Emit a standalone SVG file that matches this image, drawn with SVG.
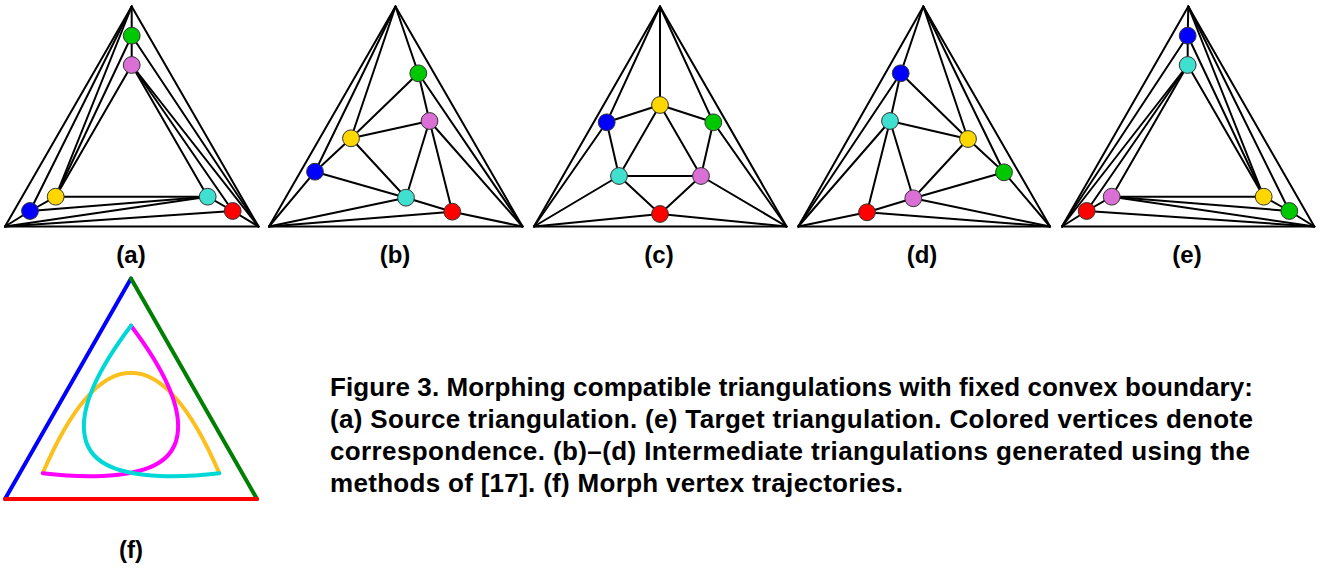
<svg xmlns="http://www.w3.org/2000/svg" width="1321" height="568" viewBox="0 0 1321 568">
<style>
.edges line{stroke:#000;stroke-width:2;stroke-linecap:round}
.nd{stroke:#333;stroke-width:1}
.green{fill:#00c800}.pink{fill:#da70d6}.yellow{fill:#ffd700}.blue{fill:#0000ff}.cyan{fill:#40e0d0}.red{fill:#ff0000}
.lbl{font-family:"Liberation Sans",Arial,sans-serif;font-weight:bold;font-size:24px;text-anchor:middle;fill:#000}
.cap{font-family:"Liberation Sans",Arial,sans-serif;font-weight:bold;font-size:26px;fill:#000}
.traj{fill:none;stroke-width:4;stroke-linecap:round;stroke-linejoin:round}
</style>

<!-- Panel (a) -->
<g id="panel-a">
<g id="a-connectors" class="edges">
<line x1="131.7" y1="6.5" x2="5" y2="226.5"/><line x1="131.7" y1="6.5" x2="258.5" y2="226.5"/><line x1="5" y1="226.5" x2="258.5" y2="226.5"/>
<line x1="131.7" y1="6.5" x2="131.7" y2="35.7"/><line x1="131.7" y1="6.5" x2="55.7" y2="196.7"/><line x1="131.7" y1="6.5" x2="30" y2="211"/>
<line x1="131.7" y1="35.7" x2="258.5" y2="226.5"/><line x1="131.7" y1="35.7" x2="55.7" y2="196.7"/><line x1="131.7" y1="35.7" x2="131.7" y2="65"/>
<line x1="131.7" y1="65" x2="55.7" y2="196.7"/><line x1="131.7" y1="65" x2="207.7" y2="196.7"/><line x1="131.7" y1="65" x2="232.7" y2="211"/><line x1="131.7" y1="65" x2="258.5" y2="226.5"/>
<line x1="55.7" y1="196.7" x2="30" y2="211"/><line x1="55.7" y1="196.7" x2="207.7" y2="196.7"/>
<line x1="30" y1="211" x2="207.7" y2="196.7"/><line x1="30" y1="211" x2="5" y2="226.5"/>
<line x1="207.7" y1="196.7" x2="232.7" y2="211"/><line x1="207.7" y1="196.7" x2="5" y2="226.5"/>
<line x1="232.7" y1="211" x2="5" y2="226.5"/><line x1="232.7" y1="211" x2="258.5" y2="226.5"/>
</g>
<g id="a-green"><circle class="nd green" cx="131.7" cy="35.7" r="8.4"/></g>
<g id="a-pink"><circle class="nd pink" cx="131.7" cy="65" r="8.4"/></g>
<g id="a-yellow"><circle class="nd yellow" cx="55.7" cy="196.7" r="8.4"/></g>
<g id="a-blue"><circle class="nd blue" cx="30" cy="211" r="8.4"/></g>
<g id="a-cyan"><circle class="nd cyan" cx="207.7" cy="196.7" r="8.4"/></g>
<g id="a-red"><circle class="nd red" cx="232.7" cy="211" r="8.4"/></g>
<text class="lbl" x="131" y="263">(a)</text>
</g>

<!-- Panel (b) -->
<g id="panel-b">
<g id="b-connectors" class="edges">
<line x1="395.5" y1="6.5" x2="269" y2="226.5"/><line x1="395.5" y1="6.5" x2="522.5" y2="226.5"/><line x1="269" y1="226.5" x2="522.5" y2="226.5"/>
<line x1="395.5" y1="6.5" x2="418.3" y2="73.3"/><line x1="395.5" y1="6.5" x2="351" y2="138.3"/><line x1="395.5" y1="6.5" x2="315" y2="171.7"/>
<line x1="418.3" y1="73.3" x2="522.5" y2="226.5"/><line x1="418.3" y1="73.3" x2="351" y2="138.3"/><line x1="418.3" y1="73.3" x2="429.5" y2="121"/>
<line x1="429.5" y1="121" x2="351" y2="138.3"/><line x1="429.5" y1="121" x2="406" y2="197.7"/><line x1="429.5" y1="121" x2="452.3" y2="211.7"/><line x1="429.5" y1="121" x2="522.5" y2="226.5"/>
<line x1="351" y1="138.3" x2="315" y2="171.7"/><line x1="351" y1="138.3" x2="406" y2="197.7"/>
<line x1="315" y1="171.7" x2="406" y2="197.7"/><line x1="315" y1="171.7" x2="269" y2="226.5"/>
<line x1="406" y1="197.7" x2="452.3" y2="211.7"/><line x1="406" y1="197.7" x2="269" y2="226.5"/>
<line x1="452.3" y1="211.7" x2="269" y2="226.5"/><line x1="452.3" y1="211.7" x2="522.5" y2="226.5"/>
</g>
<g id="b-green"><circle class="nd green" cx="418.3" cy="73.3" r="8.4"/></g>
<g id="b-pink"><circle class="nd pink" cx="429.5" cy="121" r="8.4"/></g>
<g id="b-yellow"><circle class="nd yellow" cx="351" cy="138.3" r="8.4"/></g>
<g id="b-blue"><circle class="nd blue" cx="315" cy="171.7" r="8.4"/></g>
<g id="b-cyan"><circle class="nd cyan" cx="406" cy="197.7" r="8.4"/></g>
<g id="b-red"><circle class="nd red" cx="452.3" cy="211.7" r="8.4"/></g>
<text class="lbl" x="395" y="263">(b)</text>
</g>

<!-- Panel (c) -->
<g id="panel-c">
<g id="c-connectors" class="edges">
<line x1="660" y1="6.5" x2="534" y2="226.5"/><line x1="660" y1="6.5" x2="786.5" y2="226.5"/><line x1="534" y1="226.5" x2="786.5" y2="226.5"/>
<line x1="660" y1="6.5" x2="713.3" y2="122.3"/><line x1="660" y1="6.5" x2="660" y2="105"/><line x1="660" y1="6.5" x2="606.7" y2="122.3"/>
<line x1="713.3" y1="122.3" x2="786.5" y2="226.5"/><line x1="713.3" y1="122.3" x2="660" y2="105"/><line x1="713.3" y1="122.3" x2="701" y2="176"/>
<line x1="701" y1="176" x2="660" y2="105"/><line x1="701" y1="176" x2="619" y2="176"/><line x1="701" y1="176" x2="660" y2="214"/><line x1="701" y1="176" x2="786.5" y2="226.5"/>
<line x1="660" y1="105" x2="606.7" y2="122.3"/><line x1="660" y1="105" x2="619" y2="176"/>
<line x1="606.7" y1="122.3" x2="619" y2="176"/><line x1="606.7" y1="122.3" x2="534" y2="226.5"/>
<line x1="619" y1="176" x2="660" y2="214"/><line x1="619" y1="176" x2="534" y2="226.5"/>
<line x1="660" y1="214" x2="534" y2="226.5"/><line x1="660" y1="214" x2="786.5" y2="226.5"/>
</g>
<g id="c-green"><circle class="nd green" cx="713.3" cy="122.3" r="8.4"/></g>
<g id="c-pink"><circle class="nd pink" cx="701" cy="176" r="8.4"/></g>
<g id="c-yellow"><circle class="nd yellow" cx="660" cy="105" r="8.4"/></g>
<g id="c-blue"><circle class="nd blue" cx="606.7" cy="122.3" r="8.4"/></g>
<g id="c-cyan"><circle class="nd cyan" cx="619" cy="176" r="8.4"/></g>
<g id="c-red"><circle class="nd red" cx="660" cy="214" r="8.4"/></g>
<text class="lbl" x="659" y="263">(c)</text>
</g>

<!-- Panel (d) -->
<g id="panel-d">
<g id="d-connectors" class="edges">
<line x1="923.3" y1="6.5" x2="798.3" y2="226.5"/><line x1="923.3" y1="6.5" x2="1050" y2="226.5"/><line x1="798.3" y1="226.5" x2="1050" y2="226.5"/>
<line x1="923.3" y1="6.5" x2="1004" y2="172.3"/><line x1="923.3" y1="6.5" x2="968" y2="139"/><line x1="923.3" y1="6.5" x2="900.7" y2="73.3"/>
<line x1="1004" y1="172.3" x2="1050" y2="226.5"/><line x1="1004" y1="172.3" x2="968" y2="139"/><line x1="1004" y1="172.3" x2="913.3" y2="198.3"/>
<line x1="913.3" y1="198.3" x2="968" y2="139"/><line x1="913.3" y1="198.3" x2="890" y2="121"/><line x1="913.3" y1="198.3" x2="867" y2="212.3"/><line x1="913.3" y1="198.3" x2="1050" y2="226.5"/>
<line x1="968" y1="139" x2="900.7" y2="73.3"/><line x1="968" y1="139" x2="890" y2="121"/>
<line x1="900.7" y1="73.3" x2="890" y2="121"/><line x1="900.7" y1="73.3" x2="798.3" y2="226.5"/>
<line x1="890" y1="121" x2="867" y2="212.3"/><line x1="890" y1="121" x2="798.3" y2="226.5"/>
<line x1="867" y1="212.3" x2="798.3" y2="226.5"/><line x1="867" y1="212.3" x2="1050" y2="226.5"/>
</g>
<g id="d-green"><circle class="nd green" cx="1004" cy="172.3" r="8.4"/></g>
<g id="d-pink"><circle class="nd pink" cx="913.3" cy="198.3" r="8.4"/></g>
<g id="d-yellow"><circle class="nd yellow" cx="968" cy="139" r="8.4"/></g>
<g id="d-blue"><circle class="nd blue" cx="900.7" cy="73.3" r="8.4"/></g>
<g id="d-cyan"><circle class="nd cyan" cx="890" cy="121" r="8.4"/></g>
<g id="d-red"><circle class="nd red" cx="867" cy="212.3" r="8.4"/></g>
<text class="lbl" x="922" y="263">(d)</text>
</g>

<!-- Panel (e) -->
<g id="panel-e">
<g id="e-connectors" class="edges">
<line x1="1188.3" y1="6.5" x2="1062" y2="226.5"/><line x1="1188.3" y1="6.5" x2="1314.3" y2="226.5"/><line x1="1062" y1="226.5" x2="1314.3" y2="226.5"/>
<line x1="1188.3" y1="6.5" x2="1289.3" y2="211"/><line x1="1188.3" y1="6.5" x2="1263.7" y2="196.7"/><line x1="1188.3" y1="6.5" x2="1187.7" y2="35.7"/>
<line x1="1289.3" y1="211" x2="1314.3" y2="226.5"/><line x1="1289.3" y1="211" x2="1263.7" y2="196.7"/><line x1="1289.3" y1="211" x2="1111.7" y2="196.7"/>
<line x1="1111.7" y1="196.7" x2="1263.7" y2="196.7"/><line x1="1111.7" y1="196.7" x2="1187.7" y2="65"/><line x1="1111.7" y1="196.7" x2="1086.7" y2="211"/><line x1="1111.7" y1="196.7" x2="1314.3" y2="226.5"/>
<line x1="1263.7" y1="196.7" x2="1187.7" y2="35.7"/><line x1="1263.7" y1="196.7" x2="1187.7" y2="65"/>
<line x1="1187.7" y1="35.7" x2="1187.7" y2="65"/><line x1="1187.7" y1="35.7" x2="1062" y2="226.5"/>
<line x1="1187.7" y1="65" x2="1086.7" y2="211"/><line x1="1187.7" y1="65" x2="1062" y2="226.5"/>
<line x1="1086.7" y1="211" x2="1062" y2="226.5"/><line x1="1086.7" y1="211" x2="1314.3" y2="226.5"/>
</g>
<g id="e-green"><circle class="nd green" cx="1289.3" cy="211" r="8.4"/></g>
<g id="e-pink"><circle class="nd pink" cx="1111.7" cy="196.7" r="8.4"/></g>
<g id="e-yellow"><circle class="nd yellow" cx="1263.7" cy="196.7" r="8.4"/></g>
<g id="e-blue"><circle class="nd blue" cx="1187.7" cy="35.7" r="8.4"/></g>
<g id="e-cyan"><circle class="nd cyan" cx="1187.7" cy="65" r="8.4"/></g>
<g id="e-red"><circle class="nd red" cx="1086.7" cy="211" r="8.4"/></g>
<text class="lbl" x="1187" y="263">(e)</text>
</g>

<!-- Panel (f) -->
<g id="panel-f">
<line x1="131" y1="278.5" x2="5" y2="499" stroke="#0000ff" stroke-width="4" stroke-linecap="round"/>
<line x1="131" y1="278.5" x2="257" y2="499" stroke="#008000" stroke-width="4" stroke-linecap="round"/>
<line x1="5" y1="499" x2="257" y2="499" stroke="#ff0000" stroke-width="4" stroke-linecap="round"/>
<path class="traj" stroke="#fcc01e" d="M43,472.5 C70,410 100,372.7 131,372.7 C162,372.7 192,410 219,472.5"/>
<path class="traj" stroke="#ff00ff" d="M131,325.7 C157,360 180,400 178,430 C176,465 142,474 102,476 C77,477 57,475 42.7,473.3"/>
<path class="traj" stroke="#00d8d8" d="M131,325.7 C105,360 82,400 84,430 C86,465 120,474 160,476 C185,477 205,475 219.3,473.3"/>
<text class="lbl" x="131" y="558">(f)</text>
</g>

<!-- Caption -->
<g id="caption">
<text class="cap" x="330" y="396" textLength="923" lengthAdjust="spacing">Figure 3. Morphing compatible triangulations with fixed convex boundary:</text>
<text class="cap" x="330" y="428" textLength="923" lengthAdjust="spacing">(a) Source triangulation. (e) Target triangulation. Colored vertices denote</text>
<text class="cap" x="330" y="460" textLength="920" lengthAdjust="spacing">correspondence. (b)–(d) Intermediate triangulations generated using the</text>
<text class="cap" x="330" y="492" textLength="573" lengthAdjust="spacing">methods of [17]. (f) Morph vertex trajectories.</text>
</g>
</svg>
